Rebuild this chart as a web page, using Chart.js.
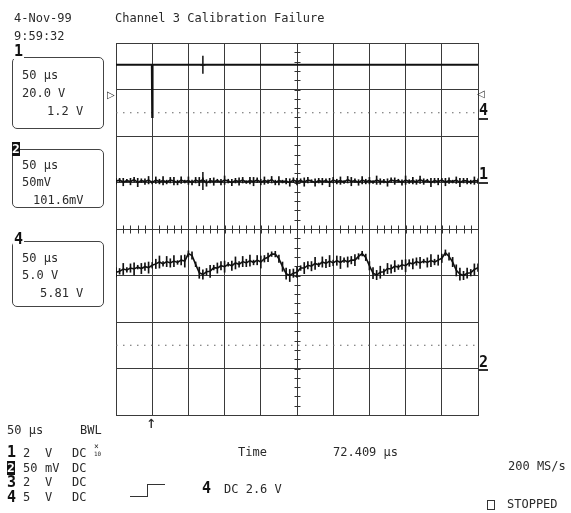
<!DOCTYPE html>
<html><head><meta charset="utf-8">
<script src="https://cdn.jsdelivr.net/npm/chart.js@4"></script>
<style>
body{margin:0;background:#fff;}
#wrap{position:relative;width:571px;height:513px;overflow:hidden;font-family:"DejaVu Sans Mono",monospace;font-size:12px;color:#2a2a2a;}
canvas{position:absolute;left:0;top:0;}
.t{position:absolute;line-height:12px;white-space:pre;}
.b{position:absolute;font-weight:bold;font-size:15px;line-height:15px;white-space:pre;color:#111;}
.inv{position:absolute;background:#111;color:#fff;font-weight:bold;font-size:13px;line-height:14px;width:8px;text-align:center;}
.box{position:absolute;border:1px solid #444;border-radius:5px;}
.ln{position:absolute;background:#333;}
</style></head>
<body><div id="wrap">
<canvas id="c" width="571" height="513"></canvas>

<div class="t" style="left:14px;top:12px">4-Nov-99</div>
<div class="t" style="left:14px;top:30px">9:59:32</div>
<div class="t" style="left:115px;top:12px">Channel 3 Calibration Failure</div>

<div class="box" style="left:12px;top:57px;width:90px;height:70px"></div>
<div class="b" style="left:13px;top:44px;background:#fff;padding:0 1px">1</div>
<div class="t" style="left:22px;top:69px">50 µs</div>
<div class="t" style="left:22px;top:87px">20.0 V</div>
<div class="t" style="left:47px;top:105px">1.2 V</div>

<div class="box" style="left:12px;top:149px;width:90px;height:57px"></div>
<div class="inv" style="left:12px;top:142px">2</div>
<div class="t" style="left:22px;top:159px">50 µs</div>
<div class="t" style="left:22px;top:176px">50mV</div>
<div class="t" style="left:33px;top:194px">101.6mV</div>

<div class="box" style="left:12px;top:241px;width:90px;height:64px"></div>
<div class="b" style="left:13px;top:232px;background:#fff;padding:0 1px">4</div>
<div class="t" style="left:22px;top:252px">50 µs</div>
<div class="t" style="left:22px;top:269px">5.0 V</div>
<div class="t" style="left:40px;top:287px">5.81 V</div>

<div class="t" style="left:107px;top:89px;font-size:10px;font-family:'DejaVu Sans'">▷</div>
<div class="t" style="left:477px;top:88px;font-size:10px;font-family:'DejaVu Sans'">◁</div>

<div class="b" style="left:479px;top:103px">4</div><div class="ln" style="left:478px;top:118px;width:10px;height:2px"></div>
<div class="b" style="left:479px;top:167px">1</div><div class="ln" style="left:478px;top:182px;width:10px;height:2px"></div>
<div class="b" style="left:479px;top:355px">2</div><div class="ln" style="left:478px;top:369px;width:10px;height:2px"></div>

<div class="t" style="left:146px;top:413px;font-size:17px;line-height:18px">↑</div>

<div class="t" style="left:7px;top:424px">50 µs</div>
<div class="t" style="left:80px;top:424px">BWL</div>

<div class="b" style="left:7px;top:445px">1</div>
<div class="t" style="left:23px;top:447px">2</div><div class="t" style="left:45px;top:447px">V</div><div class="t" style="left:72px;top:447px">DC</div>
<div class="t" style="left:94px;top:443px;font-size:8px;line-height:7px">×</div><div class="t" style="left:94px;top:451px;font-size:6px;line-height:6px">10</div>

<div class="inv" style="left:7px;top:461px">2</div>
<div class="t" style="left:23px;top:462px">50</div><div class="t" style="left:45px;top:462px">mV</div><div class="t" style="left:72px;top:462px">DC</div>

<div class="b" style="left:7px;top:475px">3</div>
<div class="t" style="left:23px;top:476px">2</div><div class="t" style="left:45px;top:476px">V</div><div class="t" style="left:72px;top:476px">DC</div>

<div class="b" style="left:7px;top:490px">4</div>
<div class="t" style="left:23px;top:491px">5</div><div class="t" style="left:45px;top:491px">V</div><div class="t" style="left:72px;top:491px">DC</div>

<div class="t" style="left:238px;top:446px">Time</div>
<div class="t" style="left:333px;top:446px">72.409 µs</div>
<div class="t" style="left:508px;top:460px">200 MS/s</div>

<div class="ln" style="left:130px;top:496px;width:17px;height:1px"></div>
<div class="ln" style="left:147px;top:484px;width:1px;height:13px"></div>
<div class="ln" style="left:147px;top:484px;width:18px;height:1px"></div>
<div class="b" style="left:202px;top:481px">4</div>
<div class="t" style="left:224px;top:483px">DC 2.6 V</div>

<div style="position:absolute;left:487px;top:500px;width:6px;height:8px;border:1px solid #333"></div>
<div class="t" style="left:507px;top:498px">STOPPED</div>
</div>
<script>
// Channel 1 (top trace): sample times (div) and levels (div)
const ch1Time = [0, 0.99, 1.0, 1.01, 10];
const ch1Volts = [3.53, 3.53, 2.41, 3.53, 3.53];
// Channel 2 (flat noisy trace): base level per sample and noise spike half-height
const ch2Volts = [1.03,1.05,1.01,1.04,1.02,1.06,1.00,1.04,1.02,1.05,1.00,1.05,1.02,1.04,1.01,1.05,1.03,1.00,1.05,1.02,
1.04,1.00,1.05,1.02,1.06,0.99,1.04,1.02,1.04,1.01,1.05,1.03,1.00,1.04,1.02,1.05,1.01,1.04,1.02,1.05,
1.01,1.04,1.02,1.06,1.00,1.04,1.02,1.03,1.00,1.05,1.02,1.04,1.01,1.05,1.03,1.00,1.04,1.02,1.04,1.00,
1.05,1.02,1.04,1.01,1.06,1.02,1.04,1.00,1.05,1.02,1.04,1.01,1.05,1.02,1.03,1.00,1.05,1.03,1.04,1.00,
1.05,1.02,1.04,1.01,1.06,1.02,1.04,1.00,1.04,1.02,1.05,1.01,1.04,1.02,1.05,1.00,1.04,1.03,1.01,1.04,1.03];
const ch2Spike = [0.06,0.04,0.08,0.03,0.07,0.05,0.09,0.04,0.06,0.08,0.03,0.07,0.05,0.09,0.04,0.06,0.08,0.05,0.07,0.03,
0.08,0.05,0.06,0.09,0.04,0.07,0.05,0.08,0.03,0.06,0.09,0.04,0.07,0.05,0.08,0.06,0.03,0.07,0.09,0.05,
0.06,0.08,0.04,0.07,0.05,0.09,0.03,0.06,0.08,0.05,0.07,0.04,0.09,0.06,0.03,0.08,0.05,0.07,0.04,0.09,
0.06,0.05,0.08,0.03,0.07,0.09,0.04,0.06,0.08,0.05,0.07,0.03,0.09,0.06,0.04,0.08,0.05,0.07,0.03,0.06,
0.09,0.04,0.07,0.05,0.08,0.06,0.03,0.09,0.05,0.07,0.04,0.08,0.06,0.03,0.07,0.09,0.05,0.06,0.04,0.08,0.05];
// Channel 4 (wavy trace): base level per sample and noise spike half-height
const ch4Volts = [-0.93,-0.91,-0.86,-0.88,-0.84,-0.86,-0.82,-0.85,-0.81,-0.83,
-0.78,-0.75,-0.71,-0.75,-0.70,-0.73,-0.69,-0.72,-0.67,-0.69,
-0.53,-0.57,-0.76,-0.94,-0.98,-0.92,-0.91,-0.83,-0.84,-0.79,
-0.81,-0.76,-0.79,-0.73,-0.76,-0.70,-0.73,-0.68,-0.72,-0.67,
-0.71,-0.64,-0.61,-0.54,-0.54,-0.64,-0.81,-0.96,-1.00,-0.95,
-0.93,-0.84,-0.84,-0.78,-0.80,-0.74,-0.77,-0.71,-0.74,-0.69,
-0.73,-0.68,-0.72,-0.67,-0.71,-0.67,-0.67,-0.59,-0.53,-0.61,
-0.79,-0.95,-0.99,-0.93,-0.92,-0.85,-0.86,-0.80,-0.82,-0.77,
-0.79,-0.73,-0.75,-0.70,-0.73,-0.69,-0.72,-0.68,-0.71,-0.67,
-0.63,-0.51,-0.59,-0.71,-0.89,-0.97,-1.00,-0.95,-0.94,-0.87,-0.83];
const ch4Spike = [0.10,0.06,0.12,0.05,0.09,0.13,0.04,0.11,0.08,0.12,
0.06,0.10,0.13,0.05,0.11,0.09,0.12,0.04,0.10,0.13,
0.06,0.08,0.05,0.12,0.10,0.07,0.13,0.05,0.11,0.09,
0.12,0.04,0.10,0.13,0.06,0.11,0.08,0.12,0.05,0.10,
0.13,0.07,0.09,0.05,0.06,0.08,0.10,0.12,0.13,0.09,
0.11,0.05,0.12,0.08,0.10,0.13,0.04,0.11,0.09,0.12,
0.06,0.10,0.13,0.05,0.11,0.08,0.12,0.06,0.05,0.07,
0.09,0.12,0.10,0.13,0.06,0.11,0.09,0.12,0.05,0.10,
0.13,0.07,0.11,0.08,0.12,0.04,0.10,0.13,0.06,0.11,
0.09,0.06,0.08,0.10,0.12,0.13,0.09,0.11,0.07,0.12,0.08];
// Dotted reference levels
const refLevels = [2.5, -2.5];
// Cursor position (div) and trace levels it crosses
const cursorTime = 2.4;
const cursorLevels = [3.53, 1.03];

const tOf = (i, n) => i * 10 / (n - 1);
const even = arr => arr.map((v, i) => ({x: tOf(i, arr.length), y: v}));
const spikes = (base, half) => base.map((v, i) => ({x: tOf(i, base.length), y: [v - half[i], v + half[i]]}));
const ink = '#111';
const datasets = [
  {data: ch1Time.map((t, i) => ({x: t, y: ch1Volts[i]})), borderColor: ink, borderWidth: 2},
  {data: even(ch2Volts), borderColor: ink, borderWidth: 1.6},
  {type: 'bar', data: spikes(ch2Volts, ch2Spike), backgroundColor: ink, barThickness: 1, grouped: false},
  {data: even(ch4Volts), borderColor: ink, borderWidth: 1.6},
  {type: 'bar', data: spikes(ch4Volts, ch4Spike), backgroundColor: ink, barThickness: 1, grouped: false},
  ...refLevels.map(l => ({data: [{x: 0, y: l}, {x: 10, y: l}], borderColor: '#666', borderWidth: 1.2, borderDash: [1.5, 5.5]})),
  {type: 'scatter', data: cursorLevels.map(l => ({x: cursorTime, y: l})), pointStyle: 'line', rotation: 90, pointRadius: 9, borderColor: ink, borderWidth: 1.5, showLine: false},
  {type: 'scatter', data: cursorLevels.map(l => ({x: cursorTime, y: l})), pointStyle: 'line', pointRadius: 2.5, borderColor: ink, borderWidth: 1.5, showLine: false}
].map(d => Object.assign({type: 'line', pointRadius: 0, fill: false, tension: 0}, d));

const centerTicks = {
  id: 'centerTicks',
  beforeDatasetsDraw(chart) {
    const {ctx, scales: {x, y}} = chart;
    ctx.save();
    ctx.strokeStyle = '#333'; ctx.lineWidth = 1;
    const y0 = Math.round(y.getPixelForValue(0)) + 0.5;
    const x0 = Math.round(x.getPixelForValue(5)) + 0.5;
    ctx.beginPath();
    for (let i = 0; i <= 50; i++) {
      const px = Math.round(x.getPixelForValue(i * 0.2)) + 0.5;
      ctx.moveTo(px, y0 - 4); ctx.lineTo(px, y0 + 4);
    }
    for (let i = 0; i <= 40; i++) {
      const py = Math.round(y.getPixelForValue(-4 + i * 0.2)) + 0.5;
      ctx.moveTo(x0 - 3, py); ctx.lineTo(x0 + 3, py);
    }
    ctx.stroke();
    ctx.restore();
  }
};

new Chart(document.getElementById('c'), {
  type: 'line',
  data: {datasets},
  options: {
    responsive: false, animation: false, events: [],
    layout: {padding: {left: 116, top: 43, right: 93, bottom: 98}},
    plugins: {legend: {display: false}, tooltip: {enabled: false}},
    scales: {
      x: {type: 'linear', min: 0, max: 10, offset: false, ticks: {display: false, stepSize: 1}, grid: {offset: false, color: '#3a3a3a', lineWidth: 1, drawTicks: false}, border: {color: '#3a3a3a'}},
      y: {type: 'linear', min: -4, max: 4, ticks: {display: false, stepSize: 1}, grid: {color: '#3a3a3a', lineWidth: 1, drawTicks: false}, border: {color: '#3a3a3a'}}
    }
  },
  plugins: [centerTicks]
});
</script>
</body></html>
